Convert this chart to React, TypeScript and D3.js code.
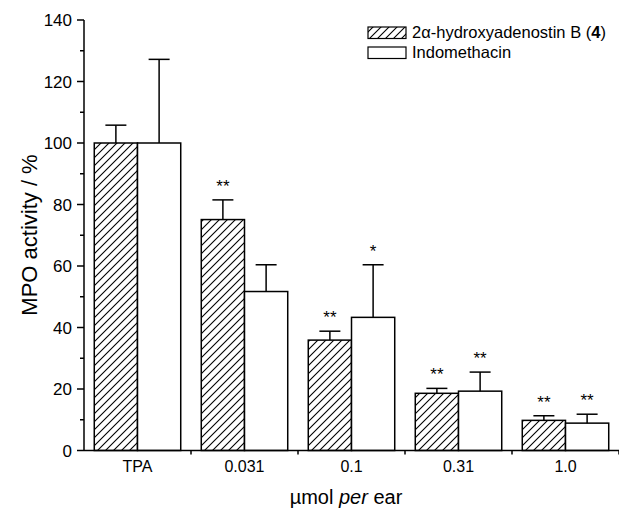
import React from "react";
import * as d3 from "d3";

const categories = ["TPA", "0.031", "0.1", "0.31", "1.0"];
const seriesNames = ["2α-hydroxyadenostin B", "Indomethacin"];
const compoundValues = [100, 75.1, 35.9, 18.6, 9.8];
const compoundErrors = [5.8, 6.4, 2.9, 1.6, 1.5];
const indoValues = [100, 51.7, 43.3, 19.3, 8.9];
const indoErrors = [27.2, 8.7, 17.1, 6.2, 2.9];
const compoundSig = ["", "**", "**", "**", "**"];
const indoSig = ["", "", "*", "**", "**"];
const yMajorTicks = [0, 20, 40, 60, 80, 100, 120, 140];
const yMinorTicks = [10, 30, 50, 70, 90, 110, 130];

const W = 619;
const H = 515;
const FONT = "Arial, 'Liberation Sans', Helvetica, sans-serif";

export default function App() {
  const left = 84;
  const right = 619;
  const top = 20;
  const bottom = 450.5;

  const y = d3.scaleLinear().domain([0, 140]).range([bottom, top]);
  const x0 = d3.scaleBand<string>().domain(categories).range([left, right]).padding(0);
  const bw = x0.bandwidth();
  const x1 = d3.scaleBand<string>().domain(["c", "i"]).range([bw * 0.096, bw * 0.904]).padding(0);

  const series = [
    { key: "c", values: compoundValues, errors: compoundErrors, sig: compoundSig, fill: "url(#hatch)" },
    { key: "i", values: indoValues, errors: indoErrors, sig: indoSig, fill: "#fff" },
  ];
  const capW = 21;
  const boundaries = categories.map((c) => x0(c)!).slice(1).concat([right]);

  return (
    <svg width={W} height={H} style={{ position: "absolute", left: 0, top: 0, background: "#fff" }} fontFamily={FONT}>
      <defs>
        <pattern id="hatch" patternUnits="userSpaceOnUse" width={8} height={8}>
          <rect width={8} height={8} fill="#fff" />
          <path d="M0,8 L8,0 M-2,2 L2,-2 M6,10 L10,6" stroke="#000" strokeWidth={1.1} />
        </pattern>
      </defs>
      <rect width={W} height={H} fill="#fff" />

      {/* bars */}
      {categories.map((cat, ci) => (
        <g key={cat} transform={`translate(${x0(cat)},0)`}>
          {series.map((s) => {
            const bx = x1(s.key)!;
            const w = x1.bandwidth();
            const v = s.values[ci];
            const e = s.errors[ci];
            const cx = bx + w / 2;
            return (
              <g key={s.key}>
                <rect x={bx} y={y(v)} width={w} height={y(0) - y(v)} fill={s.fill} stroke="#000" strokeWidth={1.5} />
                <line x1={cx} x2={cx} y1={y(v)} y2={y(v + e)} stroke="#000" strokeWidth={1.5} />
                <line x1={cx - capW / 2} x2={cx + capW / 2} y1={y(v + e)} y2={y(v + e)} stroke="#000" strokeWidth={1.5} />
                {s.sig[ci] && (
                  <text x={cx} y={y(v + e) - 8} textAnchor="middle" fontSize={17} fill="#000">
                    {s.sig[ci]}
                  </text>
                )}
              </g>
            );
          })}
        </g>
      ))}

      {/* y axis */}
      <line x1={left} x2={left} y1={top} y2={bottom} stroke="#000" strokeWidth={1.5} />
      {yMajorTicks.map((t) => (
        <g key={t}>
          <line x1={left - 7} x2={left} y1={y(t)} y2={y(t)} stroke="#000" strokeWidth={1.5} />
          <text x={left - 12} y={y(t)} dy="0.36em" textAnchor="end" fontSize={17}>
            {t}
          </text>
        </g>
      ))}
      {yMinorTicks.map((t) => (
        <line key={t} x1={left - 4} x2={left} y1={y(t)} y2={y(t)} stroke="#000" strokeWidth={1.5} />
      ))}

      {/* x axis */}
      <line x1={left} x2={right} y1={bottom} y2={bottom} stroke="#000" strokeWidth={1.5} />
      {boundaries.map((b, i) => (
        <line key={i} x1={b} x2={b} y1={bottom} y2={bottom + 4} stroke="#000" strokeWidth={1.5} />
      ))}
      {categories.map((c) => (
        <text key={c} x={x0(c)! + bw / 2} y={472} textAnchor="middle" fontSize={16}>
          {c}
        </text>
      ))}

      {/* axis titles */}
      <text x={346} y={504} textAnchor="middle" fontSize={20}>
        µmol <tspan fontStyle="italic">per</tspan> ear
      </text>
      <text transform={`translate(37,235) rotate(-90)`} textAnchor="middle" fontSize={22}>
        MPO activity / %
      </text>

      {/* legend */}
      <g>
        <rect x={368} y={27} width={38} height={11.5} fill="url(#hatch)" stroke="#000" strokeWidth={1.2} />
        <text x={412} y={38} fontSize={16.5}>
          {seriesNames[0]} (<tspan fontWeight="bold">4</tspan>)
        </text>
        <rect x={368} y={47} width={38} height={11.5} fill="#fff" stroke="#000" strokeWidth={1.2} />
        <text x={412} y={58} fontSize={16.5}>
          {seriesNames[1]}
        </text>
      </g>
    </svg>
  );
}
